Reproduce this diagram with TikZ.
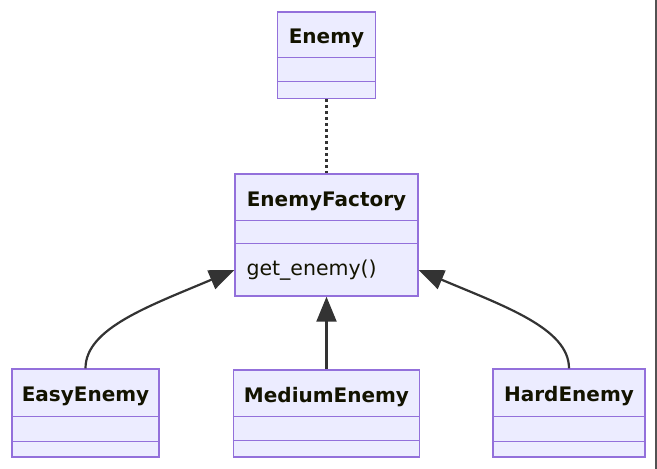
\documentclass[tikz,border=0pt]{standalone}
\usepackage{fontspec}
\setmainfont{DejaVu Sans}
\usetikzlibrary{arrows.meta}
\usetikzlibrary{calc}
\usepackage{xcolor}

\definecolor{boxfill}{HTML}{ECECFF}
\definecolor{boxline}{HTML}{9370DB}
\definecolor{linkcol}{HTML}{333333}
\definecolor{txtcol}{HTML}{131300}

\begin{document}
\begin{tikzpicture}[x=1pt, y=-1pt]
        % ================= styles =================
        \tikzset{
            % class box
            cbox/.style={draw=boxline, fill=boxfill, line width=1.4pt, inner sep=0pt},
            % class name
            ctitle/.style={font=\fontsize{20}{24}\selectfont\bfseries, text=txtcol},
            % method line
            cmethod/.style={font=\fontsize{20.5}{24}\selectfont, text=txtcol, anchor=west, inner sep=0pt},
            % compartment separator
            csep/.style={draw=boxline, line width=1.4pt},
            % inheritance arrow
            inherit/.style={draw=linkcol, line width=2.2pt, -{Triangle[length=25pt, width=20pt]}},
            % dependency
            depend/.style={draw=linkcol, line width=2.4pt, dash pattern=on 3pt off 3pt}
        }
        \useasboundingbox (0,0) rectangle (657,469);

        % ================= 1. Enemy =================
        \node[cbox, minimum width=98pt, minimum height=86.5pt] (enemy) at (326.5,55.25) {};
        \node[ctitle] (enemyT) at ($(enemy.north)+(0,27.5)$) {Enemy};
        \draw[csep] ($(enemy.north west)+(0,46)$) -- ($(enemy.north east)+(0,46)$);
        \draw[csep] ($(enemy.north west)+(0,70)$) -- ($(enemy.north east)+(0,70)$);

        % ================= 2. EnemyFactory =================
        \node[cbox, minimum width=183pt, minimum height=122pt] (factory) at (326.5,235) {};
        \node[ctitle] (factoryT) at ($(factory.north)+(0,28)$) {EnemyFactory};
        \draw[csep] ($(factory.north west)+(0,47)$) -- ($(factory.north east)+(0,47)$);
        \draw[csep] ($(factory.north west)+(0,70)$) -- ($(factory.north east)+(0,70)$);
        \node[cmethod] (getEnemy) at ($(factory.north west)+(12,97)$) {get\_enemy()};

        % ================= 3. subclasses =================
        \node[cbox, minimum width=147pt, minimum height=88pt] (easy) at (85.5,413) {};
        \node[ctitle] (easyT) at ($(easy.north)+(0,28)$) {EasyEnemy};
        \draw[csep] ($(easy.north west)+(0,48)$) -- ($(easy.north east)+(0,48)$);
        \draw[csep] ($(easy.north west)+(0,73)$) -- ($(easy.north east)+(0,73)$);

        \node[cbox, minimum width=186pt, minimum height=87pt] (medium) at (326.5,413.5) {};
        \node[ctitle] (mediumT) at ($(medium.north)+(0,28)$) {MediumEnemy};
        \draw[csep] ($(medium.north west)+(0,47)$) -- ($(medium.north east)+(0,47)$);
        \draw[csep] ($(medium.north west)+(0,71)$) -- ($(medium.north east)+(0,71)$);

        \node[cbox, minimum width=152pt, minimum height=88pt] (hard) at (569,413) {};
        \node[ctitle] (hardT) at ($(hard.north)+(0,28)$) {HardEnemy};
        \draw[csep] ($(hard.north west)+(0,48)$) -- ($(hard.north east)+(0,48)$);
        \draw[csep] ($(hard.north west)+(0,73)$) -- ($(hard.north east)+(0,73)$);

        % ================= 4. links =================
        \draw[depend] (enemy) -- (factory);
        \draw[inherit] (medium) -- (factory);
        \draw[inherit] (easy.north) .. controls +(0,-40) and +(-85,36) .. ($(factory.west)+(0,35)$);
        \draw[inherit] (hard.north) .. controls +(0,-40) and +(85,36) .. ($(factory.east)+(0,35)$);

        % right border of the screenshot
        \draw[linkcol!85, line width=1.5pt] (656,0) -- (656,469);

    \end{tikzpicture}
\end{document}
